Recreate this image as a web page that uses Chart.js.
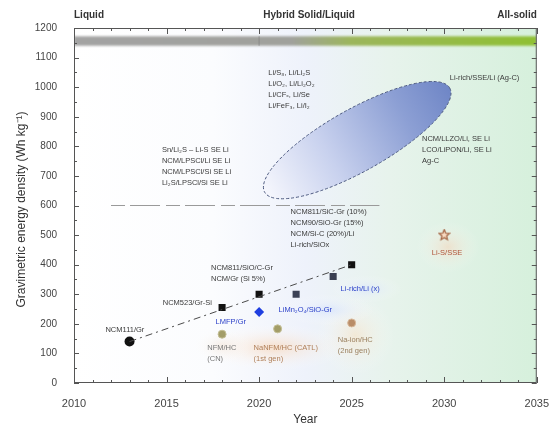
<!DOCTYPE html>
<html>
<head>
<meta charset="utf-8">
<script src="https://cdn.jsdelivr.net/npm/chart.js@4/dist/chart.umd.min.js"></script>
<style>
  html, body { margin: 0; padding: 0; background: #fff; }
  #wrap { width: 555px; height: 430px; }
</style>
</head>
<body>
<div id="wrap"><canvas id="c" width="555" height="430"></canvas></div>
<script>
// ---- data -------------------------------------------------------------
const xTickYears   = [2010, 2015, 2020, 2025, 2030, 2035];
const yTickValues  = [0, 100, 200, 300, 400, 500, 600, 700, 800, 900, 1000, 1100, 1200];

const liquidYears  = [2013, 2018, 2020];
const liquidValues = [140, 255, 300];

const hybridYears  = [2022, 2024, 2025];
const hybridValues = [300, 360, 400];

const lmfpYears    = [2020];
const lmfpValues   = [240];

const sodiumYears  = [2018, 2021];
const sodiumValues = [165, 183];

const sodiumNextYears  = [2025];
const sodiumNextValues = [203];

const solidYears   = [2030];
const solidValues  = [500];

const trendYears   = [2013, 2025];
const trendValues  = [140, 400];

const limitYears   = [2012, 2026.5];
const limitValues  = [600, 600];

// lower-left and upper-right tips of the solid-state target region
const regionTipYears  = [2020.3, 2030.3];
const regionTipValues = [645, 997];

// electrolyte era bar along the top
const eraBandValues = [1140, 1172];
const eraLabels     = ['Liquid', 'Hybrid Solid/Liquid', 'All-solid'];
const eraLabelYears = [2010, 2022.7, 2035];

// cell chemistry notes: text lines, anchor year, anchor value
const noteLines = [
  ['NCM111/Gr'],
  ['NCM523/Gr-Si'],
  ['NCM811/SiO/C-Gr', 'NCM/Gr (Si 5%)'],
  ['NCM811/SiC-Gr (10%)', 'NCM90/SiO-Gr (15%)', 'NCM/Si-C (20%)/Li', 'Li-rich/SiOx'],
  ['LMFP/Gr'],
  ['LiMn\u2082O\u2084/SiO-Gr'],
  ['Li-rich/Li (x)'],
  ['NFM/HC', '(CN)'],
  ['NaNFM/HC (CATL)', '(1st gen)'],
  ['Na-ion/HC', '(2nd gen)'],
  ['Li-S/SSE'],
  ['Sn/Li\u2082S \u2013 Li-S SE Li', 'NCM/LPSCl/Li SE Li', 'NCM/LPSCl/Si SE Li', 'Li\u2082S/LPSCl/Si SE Li'],
  ['Li/S\u2088, Li/Li\u2082S', 'Li/O\u2082, Li/Li\u2082O\u2082', 'Li/CF\u2093, Li/Se', 'Li/FeF\u2083, Li/I\u2082'],
  ['Li-rich/SSE/Li (Ag-C)'],
  ['NCM/LLZO/Li, SE Li', 'LCO/LiPON/Li, SE Li', 'Ag-C']
];
const noteYears  = [2013.8, 2017.45, 2017.4, 2021.7, 2017.65, 2021.05, 2024.4, 2017.2, 2019.7, 2024.25, 2030.15, 2014.75, 2020.5, 2030.3, 2028.8];
const noteValues = [180, 270, 389, 578, 206, 247, 318, 118, 120, 144, 439, 788, 1048, 1031, 825];
const noteAlign  = ['right', 'right', 'left', 'left', 'left', 'left', 'left', 'left', 'left', 'left', 'center', 'left', 'left', 'left', 'left'];
const noteColor  = ['#3a3a3a', '#3a3a3a', '#3a3a3a', '#3a3a3a', '#2a3fc8', '#2a3fc8', '#2a3fc8',
                    '#777', '#b0805a', '#9a8060', '#b0553a', '#3a3a3a', '#3a3a3a', '#3a3a3a', '#3a3a3a'];

// ---- helpers ------------------------------------------------------------
const pts = (xs, ys) => xs.map((x, i) => ({ x, y: ys[i] }));
const FONT = '"Liberation Sans", Arial, sans-serif';

function starImage(size, stroke, fill) {
  const cv = document.createElement('canvas');
  cv.width = cv.height = size;
  const g = cv.getContext('2d');
  const c = size / 2, ro = size / 2 - 1, ri = ro * 0.45;
  g.beginPath();
  for (let i = 0; i < 10; i++) {
    const r = i % 2 ? ri : ro;
    const a = -Math.PI / 2 + i * Math.PI / 5;
    g.lineTo(c + r * Math.cos(a), c + r * Math.sin(a));
  }
  g.closePath();
  g.fillStyle = fill; g.fill();
  g.lineWidth = 1.2; g.strokeStyle = stroke; g.stroke();
  return cv;
}

// ---- plugins ------------------------------------------------------------
const backdrop = {
  id: 'backdrop',
  beforeDatasetsDraw(chart) {
    const { ctx, chartArea: a, scales: { x, y } } = chart;
    ctx.save();
    ctx.beginPath(); ctx.rect(a.left, a.top, a.width, a.height); ctx.clip();

    // plot background: white on the left, blue haze mid, mint on the right
    const bg = ctx.createLinearGradient(a.left, 0, a.right, 0);
    bg.addColorStop(0, '#ffffff');
    bg.addColorStop(0.3, '#fbfcfe');
    bg.addColorStop(0.5, '#eef2fb');
    bg.addColorStop(0.68, '#e7f3ec');
    bg.addColorStop(1, '#d6f0dc');
    ctx.fillStyle = bg;
    ctx.fillRect(a.left, a.top, a.width, a.height);

    // soft haze behind the labelled groups
    const glow = (cx, cy, rx, ry, col) => {
      ctx.save();
      ctx.translate(cx, cy); ctx.scale(rx / ry, 1);
      const r = ctx.createRadialGradient(0, 0, 0, 0, 0, ry);
      r.addColorStop(0, col); r.addColorStop(1, 'rgba(255,255,255,0)');
      ctx.fillStyle = r;
      ctx.beginPath(); ctx.arc(0, 0, ry, 0, Math.PI * 2); ctx.fill();
      ctx.restore();
    };
    glow(x.getPixelForValue(2020.8), y.getPixelForValue(120), 75, 24, 'rgba(250,205,165,0.55)');
    glow(x.getPixelForValue(2025.2), y.getPixelForValue(160), 40, 40, 'rgba(252,220,180,0.45)');
    glow(x.getPixelForValue(2018), y.getPixelForValue(125), 30, 18, 'rgba(240,225,210,0.5)');
    glow(x.getPixelForValue(2030.2), y.getPixelForValue(460), 32, 26, 'rgba(252,205,175,0.45)');
    glow(x.getPixelForValue(2023.7), y.getPixelForValue(247), 48, 16, 'rgba(205,220,255,0.55)');
    glow(x.getPixelForValue(2025.8), y.getPixelForValue(318), 36, 14, 'rgba(205,220,255,0.5)');

    // era bar: grey for liquid, shading to green towards all-solid
    const bt = y.getPixelForValue(eraBandValues[1]);
    const bb = y.getPixelForValue(eraBandValues[0]);
    const band = ctx.createLinearGradient(a.left, 0, a.right, 0);
    band.addColorStop(0, '#a3a3a3');
    band.addColorStop(0.47, '#a0a19c');
    band.addColorStop(0.6, '#9cb65c');
    band.addColorStop(1, '#8fc033');
    ctx.filter = 'blur(1px)';
    ctx.fillStyle = band;
    ctx.fillRect(a.left, bt, a.width, bb - bt);
    ctx.filter = 'none';
    ctx.strokeStyle = 'rgba(120,120,120,0.6)';
    ctx.lineWidth = 1;
    const xs = x.getPixelForValue(2020);
    ctx.beginPath(); ctx.moveTo(xs, bt); ctx.lineTo(xs, bb); ctx.stroke();

    // target region for solid-state cells
    const ax = x.getPixelForValue(regionTipYears[0]), ay = y.getPixelForValue(regionTipValues[0]);
    const bx = x.getPixelForValue(regionTipYears[1]), by = y.getPixelForValue(regionTipValues[1]);
    const cx = (ax + bx) / 2, cy = (ay + by) / 2;
    const semiMajor = Math.hypot(bx - ax, by - ay) / 2;
    const ang = Math.atan2(by - ay, bx - ax);
    const fill = ctx.createLinearGradient(ax, ay, bx, by);
    fill.addColorStop(0, '#f6f7fd');
    fill.addColorStop(0.35, '#c8d1ee');
    fill.addColorStop(0.75, '#8c9fd4');
    fill.addColorStop(1, '#6f86c6');
    ctx.beginPath();
    ctx.ellipse(cx, cy, semiMajor, 31, ang, 0, Math.PI * 2);
    ctx.fillStyle = fill;
    ctx.fill();
    ctx.setLineDash([3, 2]);
    ctx.strokeStyle = '#4d5a80';
    ctx.lineWidth = 1;
    ctx.stroke();
    ctx.setLineDash([]);
    ctx.restore();
  },
  afterDatasetsDraw(chart) {
    const { ctx, scales: { x, y } } = chart;
    ctx.save();
    ctx.font = '7.5px ' + FONT;
    ctx.textBaseline = 'middle';
    noteLines.forEach((lines, i) => {
      const px = x.getPixelForValue(noteYears[i]);
      const py = y.getPixelForValue(noteValues[i]);
      ctx.fillStyle = noteColor[i];
      ctx.textAlign = noteAlign[i];
      lines.forEach((t, k) => ctx.fillText(t, px, py + k * 11));
    });
    ctx.restore();
  },
  afterDraw(chart) {
    const { ctx, chartArea: a, scales: { x, y } } = chart;
    ctx.save();
    ctx.strokeStyle = '#555';
    ctx.lineWidth = 1;
    ctx.strokeRect(a.left + 0.5, a.top + 0.5, a.width - 1, a.height - 1);

    // inward ticks on all four sides
    ctx.beginPath();
    for (let yr = 2010; yr <= 2035; yr++) {
      const px = Math.round(x.getPixelForValue(yr)) + 0.5;
      const len = yr % 5 === 0 ? 6 : 3;
      ctx.moveTo(px, a.bottom); ctx.lineTo(px, a.bottom - len);
      ctx.moveTo(px, a.top); ctx.lineTo(px, a.top + len);
    }
    for (let v = 0; v <= 1200; v += 50) {
      const py = Math.round(y.getPixelForValue(v)) + 0.5;
      const len = v % 100 === 0 ? 5 : 3;
      ctx.moveTo(a.left, py); ctx.lineTo(a.left + len, py);
      ctx.moveTo(a.right, py); ctx.lineTo(a.right - len, py);
    }
    ctx.stroke();

    // era labels above the frame
    ctx.fillStyle = '#333';
    ctx.font = 'bold 10px ' + FONT;
    ctx.textBaseline = 'middle';
    eraLabels.forEach((t, i) => {
      ctx.textAlign = i === 0 ? 'left' : i === 2 ? 'right' : 'center';
      ctx.fillText(t, x.getPixelForValue(eraLabelYears[i]), 15);
    });

    // axis titles
    ctx.font = '12px ' + FONT;
    ctx.fillStyle = '#333';
    ctx.textAlign = 'center';
    ctx.fillText('Year', (a.left + a.right) / 2, 420);
    ctx.translate(22, (a.top + a.bottom) / 2 + 4);
    ctx.rotate(-Math.PI / 2);
    ctx.fillText('Gravimetric energy density (Wh kg\u207B\u00B9)', 0, 0);
    ctx.restore();
  }
};

// ---- chart --------------------------------------------------------------
const star = starImage(13, '#a0603f', 'rgba(250,215,190,0.9)');

new Chart(document.getElementById('c'), {
  type: 'scatter',
  data: {
    datasets: [
      { type: 'line', data: pts(limitYears, limitValues), borderColor: '#9a9a9a', borderWidth: 1,
        borderDash: [14, 5, 30, 6], pointRadius: 0, fill: false },
      { type: 'line', data: pts(trendYears, trendValues), borderColor: '#4a4a4a', borderWidth: 1,
        borderDash: [7, 4, 2, 4], pointRadius: 0, fill: false },
      { data: pts(sodiumYears, sodiumValues), pointStyle: 'circle', pointRadius: 4,
        backgroundColor: '#a39d68', borderColor: '#c4bf95', borderWidth: 1 },
      { data: pts(sodiumNextYears, sodiumNextValues), pointStyle: 'circle', pointRadius: 4,
        backgroundColor: '#b98d68', borderColor: '#d8b89a', borderWidth: 1 },
      { data: pts(liquidYears, liquidValues), pointStyle: ['circle', 'rect', 'rect'], pointRadius: 5,
        backgroundColor: '#111', borderColor: '#111', borderWidth: 0 },
      { data: pts(hybridYears, hybridValues), pointStyle: 'rect', pointRadius: 5,
        backgroundColor: ['#3c4256', '#3a3f52', '#111'], borderWidth: 0 },
      { data: pts(lmfpYears, lmfpValues), pointStyle: 'rectRot', pointRadius: 5,
        backgroundColor: '#1f3fe0', borderWidth: 0 },
      { data: pts(solidYears, solidValues), pointStyle: star, pointRadius: 7 }
    ]
  },
  options: {
    responsive: false,
    animation: false,
    devicePixelRatio: 1,
    events: [],
    layout: { padding: { top: 28, right: 15, left: 0, bottom: 0 } },
    plugins: { legend: { display: false }, tooltip: { enabled: false } },
    scales: {
      x: {
        type: 'linear', min: 2010, max: 2035,
        afterBuildTicks: s => { s.ticks = xTickYears.map(v => ({ value: v })); },
        afterFit: s => { s.height = 47; },
        grid: { display: false },
        border: { display: false },
        ticks: { color: '#444', font: { size: 11, family: FONT }, padding: 6, maxRotation: 0,
                 callback: v => String(v) }
      },
      y: {
        type: 'linear', min: 0, max: 1200,
        afterBuildTicks: s => { s.ticks = yTickValues.map(v => ({ value: v })); },
        afterFit: s => { s.width = 74; },
        grid: { display: false },
        border: { display: false },
        ticks: { color: '#444', font: { size: 10, family: FONT }, padding: 9,
                 callback: v => String(v) }
      }
    }
  },
  plugins: [backdrop]
});
</script>
</body>
</html>
